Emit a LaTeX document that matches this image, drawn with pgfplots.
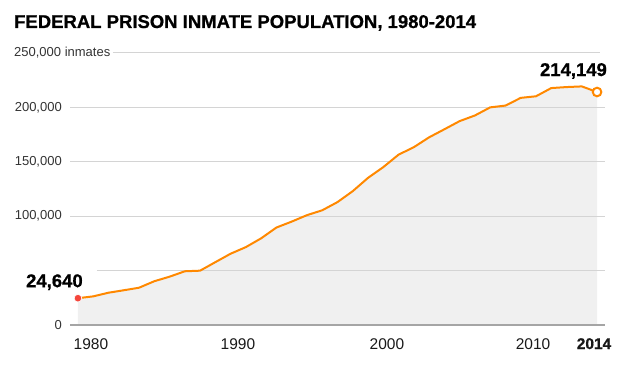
\documentclass[border=0pt]{standalone}
\usepackage{pgfplots}
\pgfplotsset{compat=1.18}
\usepackage{pgfplotstable}
\usepackage{fontspec}
\setmainfont{Liberation Sans}
\newfontfamily\heavyfont[FakeBold=0.8]{Liberation Sans Bold}
\definecolor{lineor}{RGB}{255,136,0}
\definecolor{fillg}{RGB}{240,240,240}
\definecolor{gridg}{RGB}{212,212,212}
\definecolor{zerog}{RGB}{165,165,165}
\definecolor{dotred}{RGB}{245,70,60}
\definecolor{txt}{RGB}{51,51,51}

\pgfplotstableread{
year pop
1980 24640
1981 26313
1982 29673
1983 31926
1984 34263
1985 40223
1986 44408
1987 49378
1988 49928
1989 57762
1990 65526
1991 71608
1992 79678
1993 89587
1994 95034
1995 100958
1996 105443
1997 112973
1998 123041
1999 135246
2000 145125
2001 156572
2002 163436
2003 172499
2004 179895
2005 187394
2006 192584
2007 200020
2008 201668
2009 208759
2010 210227
2011 217768
2012 218687
2013 219298
2014 214149
}\prisondata

\begin{document}
\begin{tikzpicture}
\useasboundingbox (0,0) rectangle (630bp,370bp);
\node[anchor=base west, inner sep=0pt, font=\fontsize{18.5bp}{20bp}\heavyfont] at (14bp,342bp) {FEDERAL PRISON INMATE POPULATION, 1980-2014};
\node[anchor=west, inner sep=0pt, text=txt, font=\fontsize{13bp}{15bp}\selectfont] at (14bp,317bp) {250,000 inmates};
\begin{axis}[at={(70bp,45bp)}, anchor=south west, scale only axis, width=535bp, height=272bp,
 xmin=1979.48, xmax=2014.52, ymin=0, ymax=250000,
 axis line style={draw=none}, major tick length=0pt,
 xtick={1980.85,1990.48,2000.24,2009.81,2013.80},
 xticklabels={1980,1990,2000,2010,{\heavyfont 2014}},
 ytick={0,100000,150000,200000},
 yticklabels={0,{100,000},{150,000},{200,000}},
 xticklabel style={anchor=north, inner sep=0pt, yshift=-13bp, font=\fontsize{15.5bp}{17bp}\selectfont, text=black!90},
 yticklabel style={anchor=east, inner sep=0pt, xshift=-8bp, font=\fontsize{13bp}{15bp}\selectfont, text=txt},
 clip=false, scaled y ticks=false,
]
\addplot[draw=none, fill=fillg] table[x=year,y=pop]{\prisondata} \closedcycle;
\draw[gridg, line width=1bp] (axis cs:1982.29,250000) -- (axis cs:2014.2,250000);
\draw[gridg, line width=1bp] (axis cs:1979.48,200000) -- (axis cs:2014.52,200000);
\draw[gridg, line width=1bp] (axis cs:1979.48,150000) -- (axis cs:2014.52,150000);
\draw[gridg, line width=1bp] (axis cs:1979.48,100000) -- (axis cs:2014.52,100000);
\draw[gridg, line width=1bp] (axis cs:1981.24,50000) -- (axis cs:2014.52,50000);
\draw[zerog, line width=1.3bp] (axis cs:1979.48,0) -- (axis cs:2014.52,0);
\addplot[lineor, line width=2bp, line join=round] table[x=year,y=pop]{\prisondata};
\addplot[only marks, mark=*, mark size=3.8bp, mark options={fill=dotred, draw=white, line width=0.6bp}] coordinates {(1980,24640)};
\addplot[only marks, mark=*, mark size=4.3bp, mark options={fill=white, draw=lineor, line width=2bp}] coordinates {(2014,214149)};
\node[anchor=base east, inner sep=0pt, xshift=5bp, yshift=11bp, font=\fontsize{18.5bp}{20bp}\heavyfont] at (axis cs:1980,24640) {24,640};
\node[anchor=base east, inner sep=0pt, xshift=10bp, yshift=16bp, font=\fontsize{18.5bp}{20bp}\heavyfont] at (axis cs:2014,214149) {214,149};
\end{axis}
\end{tikzpicture}
\end{document}
